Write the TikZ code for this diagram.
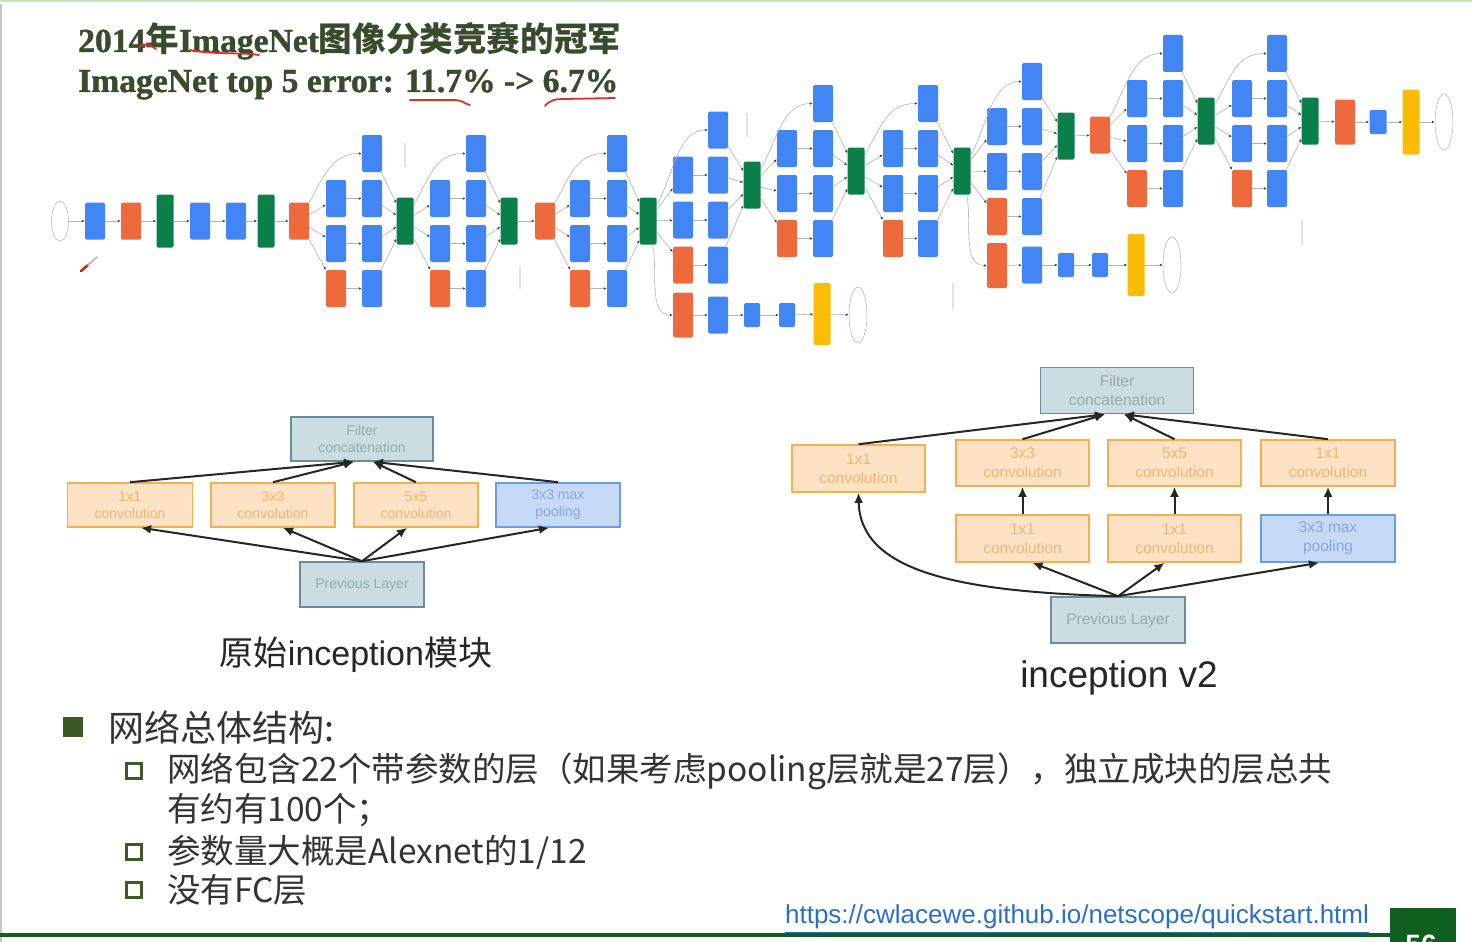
\documentclass[tikz,border=0pt]{standalone}
\usepackage{fontspec}
\setmainfont{Liberation Serif}
\setsansfont{Liberation Sans}
\newfontfamily\cjk{Noto Sans CJK SC}
\newfontfamily\ttlfont{Liberation Serif}[FakeBold=1.2]
\newfontfamily\ttlcjk{Noto Sans CJK SC}
\usetikzlibrary{arrows.meta,shapes.geometric}
\definecolor{ttl}{HTML}{3A4A2C}
\definecolor{gblue}{HTML}{4285F4}
\definecolor{gorange}{HTML}{EE6A3D}
\definecolor{ggreen}{HTML}{0B7F4A}
\definecolor{gyellow}{HTML}{FBBC05}
\definecolor{edgegray}{HTML}{B4B4B4}
\definecolor{ofill}{HTML}{FDE3C4}
\definecolor{odraw}{HTML}{F6AE4E}
\definecolor{otext}{HTML}{EFB577}
\definecolor{cfill}{HTML}{CBDDE3}
\definecolor{cdraw}{HTML}{6A8E98}
\definecolor{ctext}{HTML}{93ABB3}
\definecolor{pfill}{HTML}{C6D9F7}
\definecolor{pdraw}{HTML}{6C9BE8}
\definecolor{ptext}{HTML}{8BA5D5}
\definecolor{bltxt}{HTML}{333333}
\definecolor{bulletc}{HTML}{3C5A24}
\definecolor{urlc}{HTML}{2A6FC9}
\definecolor{dgreen}{HTML}{0F5F1F}
\definecolor{redpen}{HTML}{E0301E}
\tikzset{
  gn/.style={rectangle, rounded corners=1.5pt, inner sep=0pt, minimum width=20pt, minimum height=37pt},
  bl/.style={gn, fill=gblue},
  orn/.style={gn, fill=gorange},
  grn/.style={gn, fill=ggreen, minimum width=17pt, minimum height=47pt},
  sbl/.style={gn, fill=gblue, minimum width=16pt, minimum height=24pt},
  yel/.style={gn, fill=gyellow, minimum width=17pt, minimum height=62pt},
  outp/.style={ellipse, draw=gray!60, line width=0.5pt, minimum width=18pt, minimum height=56pt, inner sep=0pt},
  ge/.style={draw=edgegray, line width=0.6pt, -{Latex[length=3pt,width=2.6pt,color=black!75]}},
  ibox/.style={rectangle, inner sep=0pt, line width=1.6pt, align=center, font=\sffamily\fontsize{14}{17}\selectfont},
  ibig/.style={font=\sffamily\fontsize{15.5}{19}\selectfont},
  ob/.style={ibox, fill=ofill, draw=odraw, text=otext},
  cb/.style={ibox, fill=cfill, draw=cdraw, text=ctext},
  pb/.style={ibox, fill=pfill, draw=pdraw, text=ptext},
  ka/.style={draw=black!85, line width=2pt, -{Latex[length=10pt,width=9pt]}},
  redmark/.style={draw=redpen, line width=1.8pt, line cap=round},
  faint/.style={draw=gray!22, line width=1.5pt},
  bsq/.style={rectangle, draw=bulletc, line width=3.5pt, minimum size=15pt, inner sep=0pt},
  btxt/.style={anchor=west, inner sep=0pt, text=bltxt, font=\cjk\fontsize{33.5}{40}\selectfont}
}
% inception module: #1 prefix, #2 input, #3 x col1, #4 x col2, #5 x concat, #6 top y, #7 concat y
\newcommand\incmod[7]{%
  \node[bl] (#1b0) at (#4,#6) {};
  \node[bl] (#1a1) at (#3,#6+45) {};
  \node[bl] (#1b1) at (#4,#6+45) {};
  \node[bl] (#1a2) at (#3,#6+90) {};
  \node[bl] (#1b2) at (#4,#6+90) {};
  \node[orn] (#1a3) at (#3,#6+135) {};
  \node[bl] (#1b3) at (#4,#6+135) {};
  \node[grn] (#1c) at (#5,#7) {};
  \draw[ge] (#2) .. controls +(25,-45) and +(-30,0) .. (#1b0.west);
  \foreach \i in {1,2,3} {\draw[ge] (#2) -- (#1a\i); \draw[ge] (#1a\i) -- (#1b\i);}
  \foreach \i in {0,1,2,3} {\draw[ge] (#1b\i) -- (#1c);}
}
\begin{document}
\begin{tikzpicture}[x=1pt,y=-1pt]
\useasboundingbox (0,0) rectangle (1472,942);
\fill[white] (0,0) rectangle (1472,942);
\draw[draw=green!60!black!25, line width=2pt] (0,1) -- (1472,1);
\draw[draw=gray!45, line width=2pt] (1,4) -- (1,942);

% title
\node[anchor=base west, inner sep=0pt, text=ttl, font=\ttlfont\bfseries\fontsize{33.6}{38}\selectfont] (t1) at (78,52) {2014{\ttlcjk\bfseries 年}ImageNet{\ttlcjk\bfseries 图像分类竞赛的冠军}};
\node[anchor=base west, inner sep=0pt, text=ttl, font=\ttlfont\bfseries\fontsize{33.6}{38}\selectfont] (t2) at (78,92) {ImageNet top 5 error: 11.7\% -> 6.7\%};
\draw[redmark] (139,47) .. controls (145,42) and (150,45) .. (156,49);
\draw[redmark] (190,50) .. controls (215,55) and (240,52) .. (259,55);
\draw[redmark] (410,100) -- (455,100) .. controls (462,100) and (465,104) .. (470,105);
\draw[redmark] (545,106) .. controls (550,100) and (555,99) .. (565,99) -- (615,98);

% GoogLeNet
\node[outp, minimum width=17pt, minimum height=40pt] (in) at (60,221) {};
\node[bl] (c1) at (95,221) {};
\node[orn] (p1) at (131,221) {};
\node[grn, minimum height=53pt] (n1) at (165,221) {};
\node[bl] (c2r) at (200,221) {};
\node[bl] (c2) at (236,221) {};
\node[grn, minimum height=53pt] (n2) at (266,221) {};
\node[orn] (p2) at (299,221) {};
\draw[ge] (in) -- (c1);
\draw[ge] (c1) -- (p1);
\draw[ge] (p1) -- (n1);
\draw[ge] (n1) -- (c2r);
\draw[ge] (c2r) -- (c2);
\draw[ge] (c2) -- (n2);
\draw[ge] (n2) -- (p2);

\incmod{ta}{p2}{336}{372}{405}{153.5}{221}
\incmod{tb}{tac}{440}{476}{509}{153.5}{221}
\node[orn] (p3) at (545,221) {};
\draw[ge] (tbc) -- (p3);
\incmod{fa}{p3}{580}{617}{648}{153.5}{221}
\incmod{fb}{fac}{683}{718}{752}{130}{185}
\node[orn, minimum height=45pt] (xa0) at (683,315) {};
\node[bl] (xa1) at (718,315) {};
\node[sbl] (xa2) at (752,315) {};
\node[sbl] (xa3) at (787,315) {};
\node[yel] (xa4) at (822,314) {};
\node[outp] (xa5) at (858,315) {};
\draw[ge] (fac) .. controls +(10,50) and +(-25,0) .. (xa0.west);
\draw[ge] (xa0) -- (xa1);
\draw[ge] (xa1) -- (xa2);
\draw[ge] (xa2) -- (xa3);
\draw[ge] (xa3) -- (xa4);
\draw[ge] (xa4) -- (xa5);
\incmod{fc}{fbc}{787}{823}{856}{103.5}{171}
\incmod{fd}{fcc}{893}{928}{962}{103.5}{171}
\incmod{fe}{fdc}{997}{1032}{1066}{81.5}{136}
\node[orn, minimum height=45pt] (xb0) at (997,265.5) {};
\node[bl] (xb1) at (1032,265) {};
\node[sbl] (xb2) at (1066,265) {};
\node[sbl] (xb3) at (1100,265) {};
\node[yel] (xb4) at (1136,265) {};
\node[outp] (xb5) at (1172,265) {};
\draw[ge] (fdc) .. controls +(10,50) and +(-25,0) .. (xb0.west);
\draw[ge] (xb0) -- (xb1);
\draw[ge] (xb1) -- (xb2);
\draw[ge] (xb2) -- (xb3);
\draw[ge] (xb3) -- (xb4);
\draw[ge] (xb4) -- (xb5);
\node[orn] (p4) at (1100,135) {};
\draw[ge] (fec) -- (p4);
\incmod{va}{p4}{1137}{1173}{1206}{53.5}{121}
\incmod{vb}{vac}{1242}{1277}{1310}{53.5}{121}
\node[orn, minimum height=45pt] (p5) at (1345,122) {};
\node[sbl, minimum width=17pt] (fcl) at (1378,122) {};
\node[yel, minimum height=65pt] (sm) at (1411,122) {};
\node[outp] (out) at (1444,122) {};
\draw[ge] (vbc) -- (p5);
\draw[ge] (p5) -- (fcl);
\draw[ge] (fcl) -- (sm);
\draw[ge] (sm) -- (out);

% faint marks
\draw[faint] (405,143) -- (405,167);
\draw[faint] (520,267) -- (520,290);
\draw[faint] (747,113) -- (747,137);
\draw[faint] (953,283) -- (953,310);
\draw[faint] (1302,220) -- (1302,245);
% pen cursor
\draw[draw=redpen!80!black, line width=2.5pt, line cap=round] (81,271) -- (88,265);
\draw[draw=gray!50, line width=2pt, line cap=round] (88,265) -- (97,257);

% original inception module
\node[cb, minimum width=142pt, minimum height=44pt] (lf) at (362,439) {Filter\\concatenation};
\node[ob, minimum width=125pt, minimum height=44pt] (lo1) at (130,505) {1x1\\convolution};
\node[ob, minimum width=124pt, minimum height=44pt] (lo2) at (273,505) {3x3\\convolution};
\node[ob, minimum width=124pt, minimum height=44pt] (lo3) at (416,505) {5x5\\convolution};
\node[pb, minimum width=124pt, minimum height=44pt] (lp) at (558,505) {3x3 max\\pooling};
\node[cb, minimum width=124pt, minimum height=45pt] (lprev) at (362,584.5) {Previous Layer};
\draw[ka] (lo1.north) -- ([xshift=-8pt]lf.south);
\draw[ka] (lo2.north) -- ([xshift=-8pt]lf.south);
\draw[ka] (lo3.north) -- ([xshift=11pt]lf.south);
\draw[ka] (lp.north) -- ([xshift=11pt]lf.south);
\draw[ka] (lprev.north) -- ([xshift=11pt]lo1.south);
\draw[ka] (lprev.north) -- ([xshift=10pt]lo2.south);
\draw[ka] (lprev.north) -- ([xshift=-9pt]lo3.south);
\draw[ka] (lprev.north) -- ([xshift=-9pt]lp.south);
\node[inner sep=0pt, text=black!85, font=\sffamily\fontsize{34}{40}\selectfont] (lcap) at (356,655) {{\cjk 原始}inception{\cjk 模块}};

% inception v2
\node[cb, ibig, minimum width=153pt, minimum height=46pt] (rf) at (1117,390.5) {Filter\\concatenation};
\node[ob, ibig, minimum width=133pt, minimum height=47pt] (ro1) at (858.5,468.5) {1x1\\convolution};
\node[ob, ibig, minimum width=133pt, minimum height=46pt] (ro2) at (1022.5,463) {3x3\\convolution};
\node[ob, ibig, minimum width=133pt, minimum height=46pt] (ro3) at (1174.5,463) {5x5\\convolution};
\node[ob, ibig, minimum width=134pt, minimum height=46pt] (ro4) at (1328,463) {1x1\\convolution};
\node[ob, ibig, minimum width=133pt, minimum height=47pt] (rr2) at (1022.5,538.5) {1x1\\convolution};
\node[ob, ibig, minimum width=133pt, minimum height=47pt] (rr3) at (1174.5,538.5) {1x1\\convolution};
\node[pb, ibig, minimum width=134pt, minimum height=47pt] (rp) at (1328,538.5) {3x3 max\\pooling};
\node[cb, ibig, minimum width=134pt, minimum height=46pt] (rprev) at (1118,620) {Previous Layer};
\draw[ka] (ro1.north) -- ([xshift=-12pt]rf.south);
\draw[ka] (ro2.north) -- ([xshift=-12pt]rf.south);
\draw[ka] (ro3.north) -- ([xshift=7pt]rf.south);
\draw[ka] (ro4.north) -- ([xshift=7pt]rf.south);
\draw[ka] (rr2.north) -- (ro2.south);
\draw[ka] (rr3.north) -- (ro3.south);
\draw[ka] (rp.north) -- (ro4.south);
\draw[ka] (rprev.north) .. controls (960,592) and (860,572) .. (ro1.south);
\draw[ka] (rprev.north) -- ([xshift=10pt]rr2.south);
\draw[ka] (rprev.north) -- ([xshift=-10pt]rr3.south);
\draw[ka] (rprev.north) -- ([xshift=-9pt]rp.south);
\node[inner sep=0pt, text=black!85, font=\sffamily\fontsize{37}{42}\selectfont] (rcap) at (1119,678) {inception v2};

% bullets
\node[rectangle, fill=bulletc, minimum size=20pt, inner sep=0pt] (b0) at (73,727) {};
\node[anchor=west, inner sep=0pt, text=bltxt, font=\cjk\fontsize{36}{42}\selectfont] (h0) at (108,728) {网络总体结构:};
\node[bsq] (b1) at (134,771) {};
\node[btxt] (l1) at (167,771) {网络包含22个带参数的层（如果考虑pooling层就是27层），独立成块的层总共};
\node[btxt] (l1b) at (167,810) {有约有100个；};
\node[bsq] (b2) at (134,852) {};
\node[btxt] (l2) at (167,852) {参数量大概是Alexnet的1/12};
\node[bsq] (b3) at (134,890) {};
\node[btxt] (l3) at (167,890) {没有FC层};

% footer
\draw[draw=dgreen, line width=4pt] (0,935) -- (1392,935);
\node[inner sep=0pt, text=urlc, font=\sffamily\fontsize{26}{30}\selectfont] (url) at (1077,917) {https://cwlacewe.github.io/netscope/quickstart.html};
\draw[draw=urlc, line width=1.2pt] ([yshift=-3pt]url.south west) -- ([yshift=-3pt]url.south east);
\fill[dgreen] (1390,908) rectangle (1456,945);
\node[anchor=north, inner sep=0pt, text=white, font=\sffamily\bfseries\fontsize{28}{32}\selectfont] (pg) at (1421,935) {56};
\end{tikzpicture}
\end{document}
